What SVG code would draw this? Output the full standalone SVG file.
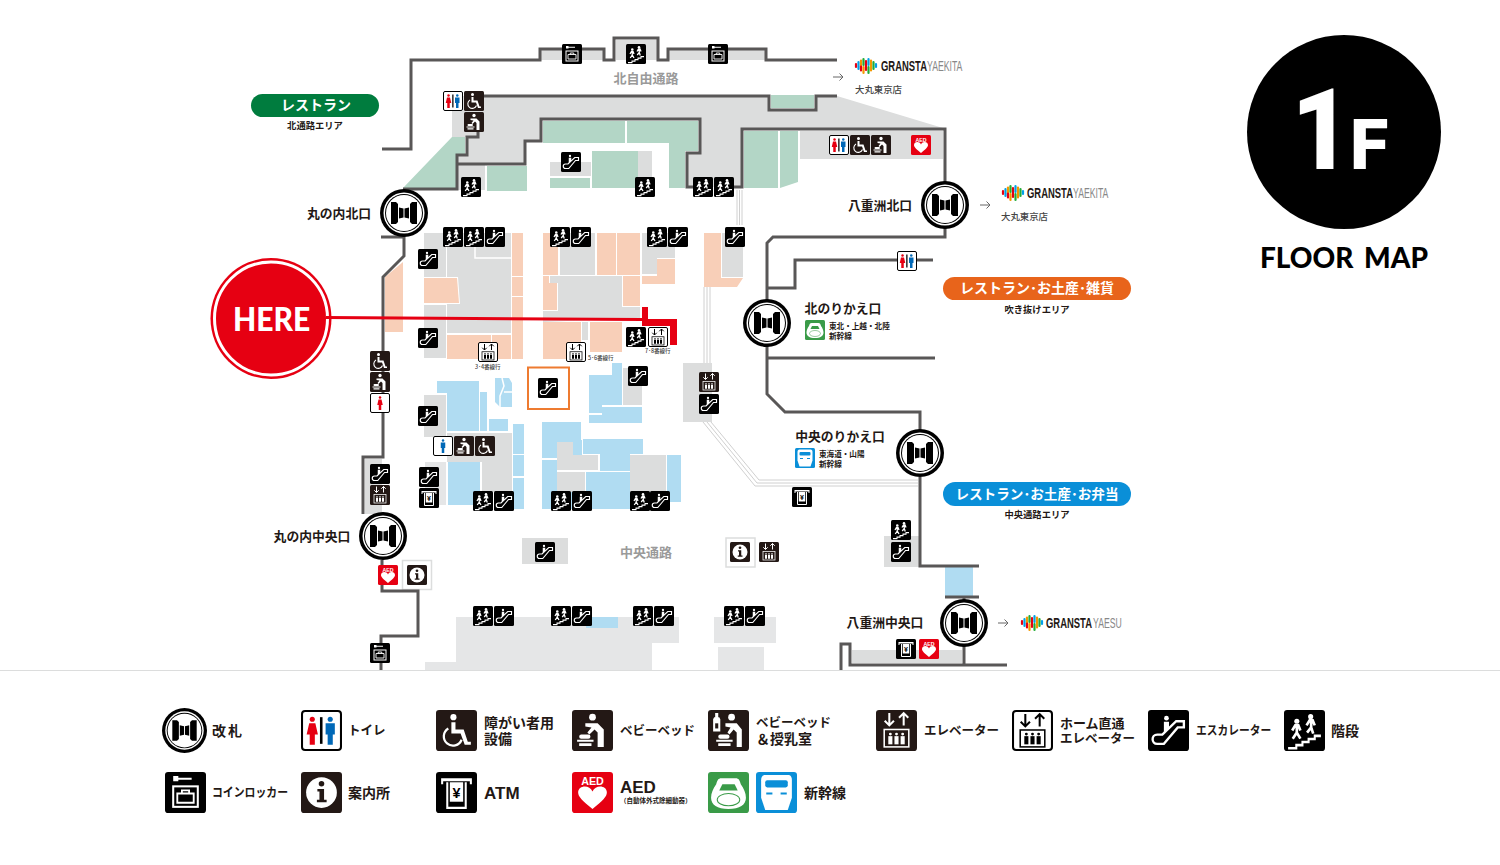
<svg xmlns="http://www.w3.org/2000/svg" xmlns:xlink="http://www.w3.org/1999/xlink" width="1500" height="865" viewBox="0 0 1500 865">
<style>
text{font-family:"Noto Sans CJK JP","Noto Sans",sans-serif;font-weight:700;fill:#231815}
.w{fill:none;stroke:#595757;stroke-width:3}
.g{fill:#dcdddd}.g2{fill:#e5e6e7}.gr{fill:#b3d6c6}.p{fill:#f8cfb8}.b{fill:#b0dcf2}
.t{fill:none;stroke:#d0d0d0;stroke-width:1}
.il{fill:none;stroke:#fff;stroke-width:1.5}
.area{fill:#9a9a9a;font-size:13px;text-anchor:middle}
.st{font-size:12.800px;text-anchor:middle}
.sm{font-size:7.600px}
.pl{fill:#fff;font-size:14px;text-anchor:middle}
.sub{font-size:9.300px;text-anchor:middle}
.lg{font-size:14px}
.k{font-size:12.500px}
.gs{font-family:"Liberation Sans",sans-serif;font-size:15px;font-weight:700;fill:#231815}
.gl{font-family:"Liberation Sans",sans-serif;font-size:15px;font-weight:400;fill:#888}
.dm{font-size:9.400px;font-weight:500;fill:#444}
.ln{font-size:5.500px;font-weight:500;fill:#444}
</style>
<defs>
<symbol id="stairs" viewBox="0 0 40 40"><rect width="40" height="40" rx="3" fill="#000"/><path d="M4 36h7v-3h6v-3h6v-3h6v-3h7v2.500h-5v3h-6v3h-6v3h-6v3H4z" fill="#fff"/><circle cx="12.500" cy="11" r="2.500" fill="#fff"/><circle cx="26" cy="6.500" r="2.500" fill="#fff"/><path d="M8 20l3-5h3l2 5M12.500 15v7l-4 6M12.500 22l3.500 6" fill="none" stroke="#fff" stroke-width="2.600"/><path d="M22 15l3-5h3l2 5M26.500 10v7l-4 5M26.500 17l2 6" fill="none" stroke="#fff" stroke-width="2.600"/></symbol>
<symbol id="esc" viewBox="0 0 40 40"><rect width="40" height="40" rx="3" fill="#000"/><path d="M9 33h6.500L29 17h6v-6h-7.500L14 24H9c-6 0-6 9 0 9z" fill="none" stroke="#fff" stroke-width="2.300"/><circle cx="18" cy="8" r="2.300" fill="#fff"/><path d="M15.500 11.500h5v6l-5 4.500z" fill="#fff"/></symbol>
<symbol id="locker" viewBox="0 0 40 40"><rect width="40" height="40" rx="3" fill="#000"/><rect x="8" y="14" width="24" height="20" fill="none" stroke="#fff" stroke-width="2"/><path d="M12 21h16v9H12zM16.500 21v-3h7v3" fill="none" stroke="#fff" stroke-width="1.800"/><path d="M8 4h5v1.500h13v2H13V9H8z" fill="#fff"/></symbol>
<g id="eb"><circle cx="14" cy="23.500" r="1.400"/><path d="M12 25.500h4v8h-4z"/><circle cx="20" cy="23.500" r="1.400"/><path d="M18 25.500h4v8h-4z"/><circle cx="26" cy="23.500" r="1.400"/><path d="M24 25.500h4v8h-4z"/></g>
<symbol id="elev" viewBox="0 0 40 40"><rect width="40" height="40" rx="3" fill="#231815"/><path d="M13 3v12M8.500 10.500 13 15l4.500-4.500M27 15V3M22.500 7.500 27 3l4.500 4.500" fill="none" stroke="#fff" stroke-width="2"/><rect x="8" y="19" width="24" height="17" fill="none" stroke="#fff" stroke-width="1.500"/><use xlink:href="#eb" fill="#fff"/></symbol>
<symbol id="elevh" viewBox="0 0 40 40"><rect x="1" y="1" width="38" height="38" rx="3" fill="#fff" stroke="#000" stroke-width="2"/><path d="M13 4v12M8.500 11.500 13 16l4.500-4.500M27 16V4M22.500 8.500 27 4l4.500 4.500" fill="none" stroke="#000" stroke-width="2"/><rect x="8" y="19.500" width="24" height="16.500" fill="none" stroke="#000" stroke-width="1.500"/><use xlink:href="#eb" fill="#000"/></symbol>
<g id="fg"><circle cx="11" cy="9" r="2.500" fill="#e60012"/><path d="M8 13h6l2.500 11h-3v10h-5V24h-3z" fill="#e60012"/></g>
<g id="mg"><circle cx="28.500" cy="9" r="2.500" fill="#0068b7"/><path d="M24 13h9v11h-2v10h-5V24h-2z" fill="#0068b7"/></g>
<symbol id="wc" viewBox="0 0 40 40"><rect x="1" y="1" width="38" height="38" rx="3" fill="#fff" stroke="#000" stroke-width="2"/><use xlink:href="#fg"/><use xlink:href="#mg"/><rect x="18.500" y="7" width="2.500" height="26" fill="#000"/></symbol>
<symbol id="wcf" viewBox="0 0 40 40"><rect x="1" y="1" width="38" height="38" rx="3" fill="#fff" stroke="#000" stroke-width="2"/><g transform="translate(9)"><use xlink:href="#fg"/></g></symbol>
<symbol id="wcm" viewBox="0 0 40 40"><rect x="1" y="1" width="38" height="38" rx="3" fill="#fff" stroke="#000" stroke-width="2"/><g transform="translate(-8.500)"><use xlink:href="#mg"/></g></symbol>
<symbol id="wheel" viewBox="0 0 40 40"><rect width="40" height="40" rx="3" fill="#231815"/><circle cx="17" cy="7" r="3" fill="#fff"/><path d="M15 12h4v7h8l4 12h3v3h-6l-4-11H15z" fill="#fff"/><path d="M12 18a9 9 0 1 0 13 11" fill="none" stroke="#fff" stroke-width="2.200"/></symbol>
<symbol id="baby" viewBox="0 0 40 40"><rect width="40" height="40" rx="3" fill="#231815"/><circle cx="20" cy="7" r="3.300" fill="#fff"/><path d="M13 13h12l6 6v17h-6V22l-3-3-5 5-2-2 4-5-6-1z" fill="#fff"/><path d="M5 29h16v2H5zM7 32.500h12v2.500H7z" fill="#fff"/><rect x="7" y="24" width="11" height="4" rx="2" fill="#fff"/></symbol>
<symbol id="babyn" viewBox="0 0 40 40"><rect width="40" height="40" rx="3" fill="#231815"/><path d="M6 7h1V3h3v4h1l1 2v12H5V9z" fill="#fff"/><path d="M7 13h3v5H7z" fill="#231815"/><circle cx="23" cy="7" r="3.300" fill="#fff"/><path d="M17 13h11l5 6v17h-5V22l-3-3-4 5-2-2 3-5-5-1z" fill="#fff"/><path d="M8 29h16v2H8zM10 32.500h12v2.500H10z" fill="#fff"/><rect x="10" y="24" width="11" height="4" rx="2" fill="#fff"/></symbol>
<symbol id="aed" viewBox="0 0 40 40"><rect width="40" height="40" rx="3" fill="#e60012"/><text x="20" y="13" font-size="10.500" text-anchor="middle" style="fill:#fff;font-family:'Liberation Sans',sans-serif;font-weight:700">AED</text><path d="M20 36C10 28 6 24 6 20c0-7 11-8 14-1 3-7 14-6 14 1 0 4-4 8-14 16z" fill="#fff"/></symbol>
<symbol id="info" viewBox="0 0 40 40"><rect width="40" height="40" rx="3" fill="#231815"/><circle cx="20" cy="20" r="15" fill="#fff"/><circle cx="20" cy="11.500" r="2.700" fill="#231815"/><path d="M16 16.500h6.500V27H25v2.500H15.500V27h2.500v-8h-2z" fill="#231815"/></symbol>
<symbol id="atm" viewBox="0 0 40 40"><rect width="40" height="40" rx="3" fill="#000"/><path d="M5 6h30v6h-2V9H7v3H5z" fill="#fff"/><path d="M11 10v25h18V10" fill="none" stroke="#fff" stroke-width="2"/><path d="M13.500 10h13v19h-13z" fill="#fff"/><text x="20" y="25" font-size="14" text-anchor="middle" style="fill:#000;font-family:'Liberation Sans',sans-serif;font-weight:700">¥</text></symbol>
<symbol id="sg" viewBox="0 0 40 40"><rect width="40" height="40" rx="3" fill="#3a9b48"/><path d="M13 6h14c3 0 4 2 5 6 3 4 5 9 5 13 0 7-6 11-17 11S3 32 3 25c0-4 2-9 5-13 1-4 2-6 5-6z" fill="#fff"/><path d="M14 12h12l3 6H11z" fill="#3a9b48"/><ellipse cx="20" cy="27" rx="11" ry="6" fill="none" stroke="#3a9b48" stroke-width="1"/></symbol>
<symbol id="sb" viewBox="0 0 40 40"><rect width="40" height="40" rx="3" fill="#0a8fd8"/><path d="M9 3h22c3 0 4 2 4 5v17l-4 12H9L5 25V8c0-3 1-5 4-5z" fill="#fff"/><rect x="9" y="8" width="22" height="7" rx="2" fill="#0a8fd8"/><path d="M10 20h6v2h-6zM24 20h6v2h-6z" fill="#0a8fd8"/></symbol>
<symbol id="gate" viewBox="0 0 48 48"><circle cx="24" cy="24" r="24" fill="#000"/><circle cx="24" cy="24" r="20.500" fill="#fff"/><circle cx="24" cy="24" r="19" fill="#000"/><circle cx="24" cy="24" r="18" fill="#fff"/><path d="M11 13h5l2 2v18l-2 2h-5zM37 13h-5l-2 2v18l2 2h5zM19 18.500l4.500 1v9l-4.500 1zM29 18.500l-4.500 1v9l4.500 1z" fill="#000"/></symbol>
<g id="logo" fill="none" stroke-width="2.200" stroke-linecap="round"><path d="M1 6v3" stroke="#e60012"/><path d="M3.500 4v7" stroke="#00a0e9"/><path d="M6 2.500v5" stroke="#f39800"/><path d="M6 8.500v4" stroke="#e60012"/><path d="M8.500 1v6" stroke="#22ac38"/><path d="M8.500 9v6" stroke="#f39800"/><path d="M11 3v9" stroke="#e60012"/><path d="M13.500 1v6" stroke="#00a0e9"/><path d="M13.500 9v6" stroke="#22ac38"/><path d="M16 2.500v10" stroke="#f39800"/><path d="M18.500 4v7" stroke="#22ac38"/><path d="M21 6v3" stroke="#00a0e9"/></g>
<path id="arw" d="M-5 0H5M1.500-3.500 5 0 1.500 3.500" fill="none" stroke="#666" stroke-width="1"/>
</defs>
<rect width="1500" height="865" fill="#fff"/>
<g id="floor">
<path class="g" d="M452 96H769V110H816V96H837L943 128V129H742V187H687V153H700V119H541V141H525V164H457V155H467V137H452z"/>
<path class="g" d="M541 49h62v11h-62zM616 40h41v20h-41zM669 50h97v10h-97z"/>
<path class="gr" d="M403 188 452 137H465V154H456V188z"/>
<rect class="g" x="458" y="165" width="27" height="25"/>
<rect class="gr" x="487" y="166" width="40" height="25"/>
<rect class="gr" x="543" y="121" width="82" height="22"/>
<path class="gr" d="M627 121H698V151H685V188H669V143H627z"/>
<rect class="g" x="550" y="162" width="41" height="14"/>
<rect class="gr" x="550" y="178" width="40" height="10"/>
<rect class="gr" x="592" y="151" width="46" height="37"/>
<rect class="g" x="638" y="151" width="14" height="37"/>
<rect class="gr" x="744" y="131" width="34" height="57"/>
<path class="gr" d="M780 131H798V182L780 188z"/>
<rect class="g" x="800" y="131" width="143" height="28"/>
<rect class="gr" x="771" y="95" width="43" height="13"/>
<path class="p" d="M403 262 385 277V332H403z"/>
<rect class="g" x="424" y="233" width="22" height="44"/>
<path class="p" d="M424 278H457L459 303H424z"/>
<rect class="g" x="424" y="305" width="22" height="53"/>
<path class="g" d="M447 233H511V333H447V304H460L458 277H447z"/>
<path class="il" d="M475 233V258H511"/>
<rect class="p" x="512" y="233" width="11" height="43"/>
<rect class="p" x="512" y="277" width="11" height="19"/>
<rect class="p" x="512" y="297" width="11" height="62"/>
<rect class="p" x="447" y="335" width="44" height="24"/>
<rect class="p" x="492" y="335" width="19" height="24"/>
<rect class="p" x="543" y="233" width="15" height="42"/>
<rect class="g" x="560" y="233" width="35" height="42"/>
<rect class="p" x="597" y="233" width="19" height="42"/>
<rect class="p" x="617" y="233" width="23" height="42"/>
<path class="g" d="M642 233H675V258H657V274H642z"/>
<path class="p" d="M657 259H675V284H642V276H657z"/>
<rect class="p" x="623" y="276" width="17" height="30"/>
<path class="g" d="M550 276H622V307H640V318L543 322V311H558V283H550z"/>
<path class="p" d="M543 276H549V283H557V310H543z"/>
<rect class="p" x="543" y="322" width="38" height="37"/>
<rect class="g" x="582" y="322" width="6" height="18"/>
<rect class="p" x="590" y="322" width="32" height="30"/>
<path class="p" d="M704 233H721V278H743L737 287H704z"/>
<rect class="g" x="722" y="233" width="21" height="44"/>
<rect class="g" x="683" y="363" width="29" height="59"/>
<rect class="g" x="424" y="395" width="22" height="42"/>
<path class="b" d="M437 381H479V431H447V393H437z"/>
<rect class="b" x="480" y="392" width="7" height="39"/>
<rect class="b" x="489" y="419" width="19" height="12"/>
<path class="b" d="M495 378H509L512 383V407H500L495 402z"/>
<path class="il" d="M502 378 504 386 500 396V407M504 392H512" stroke-width="1"/>
<path class="g" d="M447 433H512V492H482V462H447z"/>
<rect class="g2" x="425" y="462" width="21" height="43"/>
<rect class="b" x="448" y="462" width="32" height="43"/>
<rect class="b" x="513" y="424" width="11" height="30"/>
<rect class="b" x="513" y="455" width="11" height="21"/>
<rect class="b" x="513" y="478" width="11" height="31"/>
<path class="b" d="M589 375H612V363H622V405H602V413H589z"/>
<path class="b" d="M602 407H642V423H589V415H602z"/>
<rect class="g" x="623" y="368" width="19" height="37"/>
<rect class="b" x="542" y="422" width="39" height="36"/>
<rect class="b" x="542" y="460" width="15" height="49"/>
<rect class="b" x="583" y="439" width="60" height="15"/>
<rect class="b" x="600" y="451" width="30" height="20"/>
<path class="g" d="M557 442H573V455H598V470H557z"/>
<rect class="b" x="574" y="440" width="8" height="15"/>
<rect class="g" x="557" y="472" width="28" height="20"/>
<rect class="b" x="586" y="472" width="48" height="37"/>
<rect class="g" x="630" y="455" width="36" height="37"/>
<rect class="b" x="667" y="455" width="14" height="47"/>
<rect class="b" x="634" y="492" width="47" height="10"/>
<rect class="b" x="557" y="492" width="29" height="17"/>
<rect class="g" x="522" y="538" width="46" height="26"/>
<path class="g2" d="M456 617H679V643H652V670H425V662H456z"/>
<rect class="b" x="586" y="617" width="32" height="11"/>
<rect class="g2" x="714" y="617" width="62" height="26"/>
<rect class="g2" x="718" y="647" width="46" height="23"/>
<rect class="g" x="365" y="459" width="17" height="55"/>
<rect class="g" x="884" y="536" width="35" height="31"/>
<rect class="b" x="945" y="567" width="28" height="30"/>
<rect class="g" x="852" y="650" width="110" height="13"/>
<rect x="726" y="538" width="29" height="29" fill="#fff" stroke="#dcdddd" stroke-width="1.500"/>
<rect x="402.500" y="560.500" width="29" height="29" fill="#fff" stroke="#dcdddd" stroke-width="1.500"/>
<rect x="528" y="367.500" width="41" height="41.500" fill="#fff" stroke="#ee7b30" stroke-width="2"/>
</g>
<g id="here">
<circle cx="271" cy="318.500" r="60.500" fill="#e60012"/>
<circle cx="271" cy="318.500" r="56.500" fill="none" stroke="#fff" stroke-width="3"/>
<text transform="translate(233 331) scale(.94 1)" style="fill:#fff;font-family:Lato,sans-serif;font-weight:900;font-size:32px">HERE</text>
</g>
<g id="connectors">
<path class="t" d="M737 190V225M739.500 190V225M742 190V225M704 287V363M707 287V363M710 287V363M703 422 755 486H918M707 422 757 483H918M711 422 759 480H918"/>
<path class="w" d="M382 149H411V60H540V49H604V60H614V38H658V60H668V49H766V60H837"/>
<path class="w" d="M483 96H769V110H816V96H837"/>
<path class="w" d="M478 132V137H467V155H457V189H403"/>
<path class="w" d="M457 164H525V141H541V119H700V153H687V187H695"/>
<path class="w" d="M733 187H742V129H945V182"/>
<path class="w" d="M945 228V237H773L767 243V300M767 288H795V260H933"/>
<path class="w" d="M767 346V394L785 412H920V430M767 358H935"/>
<path class="w" d="M920 477V566H979M945 597H979M964 597V600"/>
<path class="w" d="M964 645V665M1007 665H850V644H841V670"/>
<path class="w" d="M381 237H404V256L383 277V457H363V514M382 560V591H418V636H381V670"/>
<path d="M326 317.500 642 319.500" stroke="#e60012" stroke-width="3" fill="none"/>
<path d="M642 307H648V319H677V345H670V326H642z" fill="#e60012"/>
</g>
<g id="gates">
<use id="g1" xlink:href="#gate" x="380" y="189" width="48" height="48"/>
<use id="g2" xlink:href="#gate" x="921" y="181" width="48" height="48"/>
<use id="g3" xlink:href="#gate" x="743" y="299" width="48" height="48"/>
<use id="g4" xlink:href="#gate" x="896" y="429" width="48" height="48"/>
<use id="g5" xlink:href="#gate" x="359" y="512" width="48" height="48"/>
<use id="g6" xlink:href="#gate" x="940" y="599" width="48" height="48"/>
</g>
<g id="icons">
<use xlink:href="#locker" x="562" y="44" width="20" height="20"/>
<use xlink:href="#stairs" x="626" y="44" width="20" height="20"/>
<use xlink:href="#locker" x="708" y="44" width="20" height="20"/>
<use xlink:href="#wc" x="443" y="91" width="20" height="20"/>
<use xlink:href="#wheel" x="464" y="91" width="20" height="20"/>
<use xlink:href="#baby" x="464" y="112" width="20" height="20"/>
<use xlink:href="#esc" x="561" y="152" width="20" height="20"/>
<use xlink:href="#stairs" x="461" y="177" width="20" height="20"/>
<use xlink:href="#stairs" x="635" y="177" width="20" height="20"/>
<use xlink:href="#stairs" x="693" y="177" width="20" height="20"/>
<use xlink:href="#stairs" x="714" y="177" width="20" height="20"/>
<use xlink:href="#stairs" x="443" y="227" width="20" height="20"/>
<use xlink:href="#stairs" x="464" y="227" width="20" height="20"/>
<use xlink:href="#esc" x="485" y="227" width="20" height="20"/>
<use xlink:href="#stairs" x="550" y="227" width="20" height="20"/>
<use xlink:href="#esc" x="571" y="227" width="20" height="20"/>
<use xlink:href="#stairs" x="647" y="227" width="20" height="20"/>
<use xlink:href="#esc" x="668" y="227" width="20" height="20"/>
<use xlink:href="#esc" x="725" y="227" width="20" height="20"/>
<use xlink:href="#esc" x="418" y="249" width="20" height="20"/>
<use xlink:href="#esc" x="418" y="328" width="20" height="20"/>
<use xlink:href="#elevh" x="478" y="342" width="20" height="20"/>
<use xlink:href="#elevh" x="566" y="342" width="20" height="20"/>
<use xlink:href="#stairs" x="626" y="327" width="20" height="20"/>
<use xlink:href="#elevh" x="648" y="327" width="20" height="20"/>
<use xlink:href="#esc" x="538" y="378" width="20" height="20"/>
<use xlink:href="#esc" x="628" y="366" width="20" height="20"/>
<use xlink:href="#elev" x="699" y="372" width="20" height="20"/>
<use xlink:href="#esc" x="699" y="394" width="20" height="20"/>
<use xlink:href="#wheel" x="370" y="351" width="20" height="20"/>
<use xlink:href="#baby" x="370" y="372" width="20" height="20"/>
<use xlink:href="#wcf" x="370" y="393" width="20" height="20"/>
<use xlink:href="#esc" x="418" y="406" width="20" height="20"/>
<use xlink:href="#wcm" x="433" y="436" width="20" height="20"/>
<use xlink:href="#baby" x="454" y="436" width="20" height="20"/>
<use xlink:href="#wheel" x="475" y="436" width="20" height="20"/>
<use xlink:href="#esc" x="370" y="464" width="20" height="20"/>
<use xlink:href="#elev" x="370" y="485" width="20" height="20"/>
<use xlink:href="#esc" x="419" y="467" width="20" height="20"/>
<use xlink:href="#atm" x="419" y="488" width="20" height="20"/>
<use xlink:href="#stairs" x="473" y="491" width="20" height="20"/>
<use xlink:href="#esc" x="494" y="491" width="20" height="20"/>
<use xlink:href="#stairs" x="551" y="491" width="20" height="20"/>
<use xlink:href="#esc" x="572" y="491" width="20" height="20"/>
<use xlink:href="#stairs" x="630" y="491" width="20" height="20"/>
<use xlink:href="#esc" x="650" y="491" width="20" height="20"/>
<use xlink:href="#esc" x="535" y="542" width="20" height="20"/>
<use xlink:href="#info" x="730" y="542" width="20" height="20"/>
<use xlink:href="#elev" x="759" y="542" width="20" height="20"/>
<use xlink:href="#aed" x="378" y="565" width="20" height="20"/>
<use xlink:href="#info" x="407" y="565" width="20" height="20"/>
<use xlink:href="#stairs" x="473" y="606" width="20" height="20"/>
<use xlink:href="#esc" x="494" y="606" width="20" height="20"/>
<use xlink:href="#stairs" x="551" y="606" width="20" height="20"/>
<use xlink:href="#esc" x="572" y="606" width="20" height="20"/>
<use xlink:href="#stairs" x="633" y="606" width="20" height="20"/>
<use xlink:href="#esc" x="654" y="606" width="20" height="20"/>
<use xlink:href="#stairs" x="724" y="606" width="20" height="20"/>
<use xlink:href="#esc" x="745" y="606" width="20" height="20"/>
<use xlink:href="#locker" x="370" y="643" width="20" height="20"/>
<use xlink:href="#atm" x="792" y="487" width="20" height="20"/>
<use xlink:href="#stairs" x="891" y="520" width="20" height="20"/>
<use xlink:href="#esc" x="891" y="542" width="20" height="20"/>
<use xlink:href="#atm" x="896" y="639" width="20" height="20"/>
<use xlink:href="#aed" x="919" y="639" width="20" height="20"/>
<use xlink:href="#wc" x="829" y="135" width="20" height="20"/>
<use xlink:href="#wheel" x="850" y="135" width="20" height="20"/>
<use xlink:href="#baby" x="871" y="135" width="20" height="20"/>
<use xlink:href="#aed" x="911" y="135" width="20" height="20"/>
<use xlink:href="#wc" x="897" y="251" width="20" height="20"/>
<use xlink:href="#sg" x="805" y="320" width="20" height="20"/>
<use xlink:href="#sb" x="795" y="448" width="20" height="20"/>
</g>
<g id="labels">
<text class="area" x="646" y="83">北自由通路</text>
<text class="area" x="646" y="557">中央通路</text>
<text class="st" x="339" y="218">丸の内北口</text>
<text class="st" x="880" y="210">八重洲北口</text>
<text class="st" x="843" y="313">北のりかえ口</text>
<text class="st" x="840" y="441">中央のりかえ口</text>
<text class="st" x="312" y="541">丸の内中央口</text>
<text class="st" x="885" y="627">八重洲中央口</text>
<text class="sm" x="829" y="329">東北・上越・北陸</text>
<text class="sm" x="829" y="339">新幹線</text>
<text class="sm" x="819" y="457">東海道・山陽</text>
<text class="sm" x="819" y="467">新幹線</text>
<text class="ln" x="475" y="369">3･4番線行</text>
<text class="ln" x="588" y="360">5･6番線行</text>
<text class="ln" x="645" y="353">7･8番線行</text>
</g>
<g id="pills">
<rect x="251" y="94" width="128" height="23" rx="11.500" fill="#007c3e"/>
<text class="pl" x="316" y="110">レストラン</text>
<text class="sub" x="315" y="129">北通路エリア</text>
<rect x="943" y="277" width="188" height="23" rx="11.500" fill="#e8641b"/>
<text class="pl" x="1037" y="293">レストラン･お土産･雑貨</text>
<text class="sub" x="1037" y="313">吹き抜けエリア</text>
<rect x="943" y="482" width="188" height="24" rx="12" fill="#0a8fd8"/>
<text class="pl" x="1037" y="499" style="font-size:13.600px">レストラン･お土産･お弁当</text>
<text class="sub" x="1037" y="518">中央通路エリア</text>
</g>
<g id="gransta">
<use xlink:href="#arw" x="838" y="77"/>
<use xlink:href="#logo" x="855" y="58"/>
<text class="gs" transform="translate(881 71) scale(.63 1)">GRANSTA</text>
<text class="gl" transform="translate(927 71) scale(.58 1)">YAEKITA</text>
<text class="dm" x="855" y="93">大丸東京店</text>
<use xlink:href="#arw" x="985" y="205"/>
<use xlink:href="#logo" x="1002" y="185"/>
<text class="gs" transform="translate(1027 198) scale(.63 1)">GRANSTA</text>
<text class="gl" transform="translate(1073 198) scale(.58 1)">YAEKITA</text>
<text class="dm" x="1001" y="220">大丸東京店</text>
<use xlink:href="#arw" x="1003" y="623"/>
<use xlink:href="#logo" x="1021" y="615"/>
<text class="gs" transform="translate(1046 628) scale(.63 1)">GRANSTA</text>
<text class="gl" transform="translate(1093 628) scale(.58 1)">YAESU</text>
</g>
<g id="floorbadge">
<circle cx="1344" cy="132" r="97" fill="#000"/>
<text transform="translate(1351 169) scale(.9 1)" text-anchor="end" style="fill:#fff;font-family:Roboto,sans-serif;font-weight:900;font-size:114px">1</text>
<text x="1350" y="169" style="fill:#fff;font-family:Roboto,sans-serif;font-weight:900;font-size:70px">F</text>
<text x="1260" y="268" style="fill:#000;font-family:Lato,sans-serif;font-weight:900;font-size:28px;word-spacing:4px">FLOOR MAP</text>
</g>
<path id="divider" d="M0 670.500H1500" stroke="#dcdddd" stroke-width="1" fill="none"/>
<g id="legend">
<use xlink:href="#gate" x="162" y="708" width="45" height="45"/>
<text class="lg" x="212" y="736" style="letter-spacing:2px">改札</text>
<use xlink:href="#wc" x="301" y="710" width="41" height="41"/>
<text class="k" x="348" y="735">トイレ</text>
<use xlink:href="#wheel" x="436" y="710" width="41" height="41"/>
<text class="lg" x="484" y="728">障がい者用</text>
<text class="lg" x="484" y="744">設備</text>
<use xlink:href="#baby" x="572" y="710" width="41" height="41"/>
<text class="k" x="620" y="735">ベビーベッド</text>
<use xlink:href="#babyn" x="708" y="710" width="41" height="41"/>
<text class="k" x="756" y="727">ベビーベッド</text>
<text class="lg" x="756" y="744">＆授乳室</text>
<use xlink:href="#elev" x="876" y="710" width="41" height="41"/>
<text class="k" x="924" y="735">エレベーター</text>
<use xlink:href="#elevh" x="1012" y="710" width="41" height="41"/>
<text class="lg" x="1060" y="728" style="font-size:13px">ホーム直通</text>
<text class="k" x="1060" y="743">エレベーター</text>
<use xlink:href="#esc" x="1148" y="710" width="41" height="41"/>
<text class="k" transform="translate(1196 735) scale(.86 1)">エスカレーター</text>
<use xlink:href="#stairs" x="1284" y="710" width="41" height="41"/>
<text class="lg" x="1331" y="736">階段</text>
<use xlink:href="#locker" x="165" y="772" width="41" height="41"/>
<text class="k" transform="translate(212 797) scale(.87 1)">コインロッカー</text>
<use xlink:href="#info" x="301" y="772" width="41" height="41"/>
<text class="lg" x="348" y="798">案内所</text>
<use xlink:href="#atm" x="436" y="772" width="41" height="41"/>
<text x="484" y="799" style="font-family:'Liberation Sans',sans-serif;font-size:17px">ATM</text>
<use xlink:href="#aed" x="572" y="772" width="41" height="41"/>
<text x="620" y="793" style="font-family:'Liberation Sans',sans-serif;font-size:17px">AED</text>
<text x="620" y="803" style="font-size:6.500px">（自動体外式除細動器）</text>
<use xlink:href="#sg" x="708" y="772" width="41" height="41"/>
<use xlink:href="#sb" x="756" y="772" width="41" height="41"/>
<text class="lg" x="804" y="798">新幹線</text>
</g>
</svg>
